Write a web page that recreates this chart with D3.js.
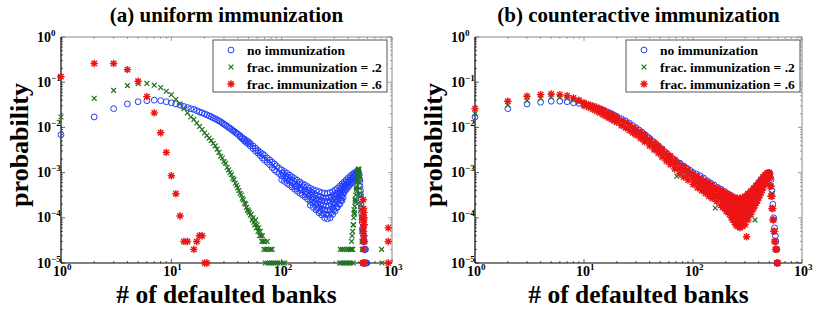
<!DOCTYPE html>
<html>
<head>
<meta charset="utf-8">
<script src="https://cdn.jsdelivr.net/npm/d3@7"></script>
<style>
  body { margin: 0; background: #fff; }
</style>
</head>
<body>
<div id="chart"></div>
<script>
// each row: [number of defaulted banks, probability, probability, ...]
const uniformNone = [
  [1, 6.9e-3], [2, 1.7e-2], [3, 2.6e-2], [4, 3.3e-2], [5, 3.7e-2], [6, 3.9e-2], [7, 4.0e-2], [8, 3.9e-2], [9, 3.7e-2],
  [10, 3.5e-2], [11, 3.3e-2], [12, 3.1e-2], [13, 2.9e-2], [14, 2.75e-2], [15, 2.6e-2], [16, 2.5e-2], [17, 2.35e-2],
  [18, 2.2e-2], [19, 2.1e-2], [20, 2.0e-2], [21, 1.9e-2], [22, 1.8e-2], [23, 1.72e-2], [24, 1.62e-2], [25, 1.55e-2],
  [26, 1.47e-2], [27, 1.4e-2], [28, 1.33e-2], [29, 1.25e-2], [30, 1.18e-2], [31, 1.12e-2], [32, 1.06e-2], [33, 1.0e-2],
  [34, 9.6e-3], [35, 9.0e-3], [36, 8.6e-3], [37, 8.2e-3], [38, 7.8e-3], [39, 7.4e-3], [40, 7.1e-3],
  [42, 6.6e-3, 6.2e-3], [44, 5.9e-3, 5.6e-3], [46, 5.5e-3, 5.0e-3], [48, 5.1e-3, 4.6e-3], [50, 4.8e-3, 4.3e-3],
  [52, 4.4e-3, 3.9e-3], [55, 3.9e-3, 3.4e-3], [58, 3.5e-3, 3.0e-3], [61, 3.1e-3, 2.7e-3], [64, 2.8e-3, 2.4e-3],
  [67, 2.6e-3, 2.1e-3], [70, 2.4e-3, 1.9e-3], [74, 2.1e-3, 1.7e-3], [78, 1.9e-3, 1.5e-3], [82, 1.7e-3, 1.3e-3],
  [86, 1.55e-3, 1.15e-3], [90, 1.4e-3, 1.05e-3], [95, 1.25e-3, 9.5e-4], [100, 1.15e-3, 8.5e-4, 7e-4],
  [103, 9.6e-4], [106, 1.05e-3, 7.8e-4, 6.4e-4], [109, 8.4e-4], [112, 9.6e-4, 7.1e-4, 5.8e-4], [115, 7.9e-4],
  [118, 8.8e-4, 6.5e-4, 5.3e-4], [121, 6.9e-4], [124, 8.1e-4, 6.0e-4, 4.8e-4], [128, 6.6e-4], [131, 7.4e-4, 5.5e-4, 4.3e-4],
  [134, 4.8e-4], [138, 6.8e-4, 5.0e-4, 3.9e-4], [142, 5.6e-4], [146, 6.2e-4, 4.6e-4, 3.5e-4], [150, 4.1e-4],
  [154, 5.7e-4, 4.2e-4, 3.2e-4], [158, 4.8e-4], [163, 5.3e-4, 3.8e-4, 2.9e-4], [167, 3.3e-4], [172, 4.9e-4, 3.5e-4, 2.6e-4],
  [177, 4.0e-4, 3.0e-4], [182, 4.5e-4, 3.2e-4, 2.3e-4, 1.9e-4], [188, 3.7e-4, 2.6e-4], [193, 4.2e-4, 2.9e-4, 2.1e-4, 1.7e-4],
  [199, 3.3e-4, 2.3e-4], [205, 4.0e-4, 2.7e-4, 1.9e-4, 1.5e-4], [211, 3.1e-4, 2.1e-4, 1.6e-4], [218, 3.8e-4, 2.5e-4, 1.7e-4, 1.3e-4],
  [224, 2.9e-4, 2.0e-4, 1.4e-4], [231, 3.6e-4, 2.4e-4, 1.6e-4, 1.15e-4], [238, 2.7e-4, 1.9e-4, 1.25e-4],
  [245, 3.5e-4, 2.3e-4, 1.5e-4, 1.0e-4], [252, 2.7e-4, 1.8e-4, 1.2e-4], [260, 3.5e-4, 2.3e-4, 1.45e-4, 9.5e-5],
  [267, 2.8e-4, 1.8e-4, 1.15e-4], [275, 3.6e-4, 2.4e-4, 1.5e-4, 1.0e-4], [282, 2.9e-4, 2.0e-4, 1.3e-4],
  [290, 3.8e-4, 2.6e-4, 1.7e-4, 1.2e-4], [297, 3.2e-4, 2.2e-4, 1.5e-4], [305, 4.1e-4, 2.9e-4, 2.0e-4, 1.4e-4],
  [312, 3.5e-4, 2.5e-4, 1.7e-4], [320, 4.5e-4, 3.2e-4, 2.3e-4, 1.7e-4], [328, 3.9e-4, 2.8e-4, 2.0e-4],
  [336, 5.0e-4, 3.6e-4, 2.7e-4, 2.0e-4], [344, 4.4e-4, 3.2e-4, 2.4e-4], [352, 5.6e-4, 4.1e-4, 3.1e-4, 2.4e-4],
  [360, 5.0e-4, 3.7e-4, 2.8e-4], [368, 6.2e-4, 4.7e-4, 3.6e-4], [376, 5.5e-4, 4.2e-4], [385, 6.9e-4, 5.3e-4, 4.2e-4],
  [393, 6.2e-4, 4.8e-4], [402, 7.6e-4, 6.0e-4, 4.8e-4], [411, 6.8e-4, 5.4e-4], [420, 8.4e-4, 6.7e-4, 5.5e-4],
  [429, 7.7e-4, 6.0e-4], [438, 9.2e-4, 7.5e-4, 6.3e-4], [447, 8.5e-4, 6.8e-4], [456, 9.8e-4, 8.3e-4, 7.1e-4],
  [465, 9.2e-4, 7.6e-4], [474, 1.05e-3, 9.0e-4, 8.0e-4], [483, 1.0e-3, 8.6e-4], [492, 1.08e-3, 9.6e-4],
  [505, 9.2e-4, 7.5e-4], [512, 6.5e-4, 5.0e-4], [518, 4.0e-4, 3.2e-4], [524, 2.6e-4, 2.0e-4], [530, 1.6e-4, 1.3e-4],
  [537, 1.0e-4, 8e-5], [544, 6e-5, 5e-5], [552, 4e-5, 3e-5], [560, 3e-5, 2e-5], [568, 2e-5, 1e-5], [576, 2e-5, 1e-5],
  [584, 1e-5], [592, 1e-5],
];

const uniformFrac2 = [
  [1, 1.7e-2], [2, 4.4e-2], [3, 6.6e-2], [4, 8.4e-2], [5, 9.3e-2], [6, 9.4e-2], [7, 8.6e-2], [8, 7.6e-2], [9, 6.3e-2],
  [10, 5.3e-2], [11, 4.2e-2], [12, 3.3e-2], [13, 2.6e-2], [14, 2.1e-2], [15, 1.7e-2], [16, 1.5e-2], [17, 1.25e-2],
  [18, 1.05e-2], [19, 9e-3], [20, 7.5e-3], [21, 6.6e-3], [22, 5.8e-3], [23, 5.1e-3], [24, 4.4e-3], [25, 3.9e-3],
  [26, 3.3e-3], [27, 2.8e-3], [28, 2.3e-3], [29, 2.1e-3], [30, 1.75e-3], [31, 1.6e-3], [32, 1.3e-3], [33, 1.15e-3],
  [34, 1.0e-3], [35, 9e-4], [36, 7.5e-4], [37, 7.0e-4], [38, 5.8e-4], [39, 5.2e-4], [40, 4.6e-4], [41, 4.0e-4],
  [42, 3.5e-4], [43, 3.2e-4], [44, 2.7e-4], [45, 2.5e-4], [46, 2.1e-4], [47, 2.0e-4], [48, 1.7e-4], [49, 1.5e-4],
  [50, 1.4e-4], [51, 1.3e-4], [52, 1.15e-4], [53, 1.2e-4], [54, 9e-5], [55, 1.0e-4], [56, 8e-5], [57, 7e-5], [58, 9e-5],
  [59, 6e-5], [60, 7e-5], [61, 5e-5], [62, 6e-5], [63, 4e-5], [64, 5e-5], [65, 4e-5], [66, 3e-5], [67, 4e-5],
  [68, 3e-5], [69, 2e-5], [70, 3e-5], [71, 1e-5], [72, 2e-5], [74, 3e-5], [75, 1e-5], [76, 2e-5], [78, 1e-5],
  [79, 2e-5], [81, 1e-5], [82, 2e-5], [85, 1e-5], [88, 1e-5], [92, 1e-5], [97, 1e-5], [103, 1e-5], [107, 1e-5],
  [335, 1e-5], [340, 2e-5], [345, 1e-5], [355, 2e-5], [360, 1e-5], [370, 2e-5], [375, 1e-5], [385, 1e-5],
  [390, 2e-5], [400, 1e-5], [405, 2e-5], [410, 1e-5], [420, 2e-5], [425, 1e-5], [430, 2e-5, 3e-5], [435, 4e-5],
  [440, 2e-5, 5e-5], [445, 1e-5, 7e-5], [448, 7e-5], [450, 1e-4], [452, 1.5e-4], [455, 1.3e-4], [458, 1.2e-4],
  [460, 1.8e-4], [462, 2.6e-4], [465, 2.4e-4], [468, 2.2e-4], [470, 3.2e-4], [472, 4.8e-4], [475, 4.3e-4],
  [478, 3.8e-4], [480, 5.8e-4], [483, 8.5e-4], [485, 7.5e-4], [488, 6.5e-4], [490, 9.5e-4], [492, 1.2e-3],
  [495, 1.1e-3], [498, 8e-4], [500, 1.1e-3], [503, 1.2e-3], [505, 9e-4], [508, 4.5e-4], [510, 6e-4], [512, 8e-4],
  [515, 3.5e-4], [518, 3e-4], [520, 2e-4], [522, 1.5e-4], [525, 1e-4], [530, 5e-5], [535, 3e-5], [538, 2e-5],
  [540, 1e-5], [805, 2e-5], [810, 1e-5],
];

const uniformFrac6 = [
  [1, 0.133], [2, 0.26], [3, 0.26], [4, 0.19], [5, 0.105], [6, 0.048], [7, 0.021], [8, 7.6e-3], [9, 2.8e-3],
  [10, 8.5e-4], [11, 3.4e-4], [12, 1.1e-4], [13, 3e-5], [14, 3e-5], [16, 2e-5], [17, 3e-5], [18, 4e-5], [19, 4e-5],
  [20, 1e-5], [21, 1e-5],
  [545, 1.1e-4, 1e-5], [547, 6e-5], [548, 2.5e-4], [549, 3e-5], [550, 8e-5], [551, 1e-5], [552, 1.6e-4],
  [553, 5e-5], [554, 9e-5], [555, 2e-5], [556, 1.3e-4], [557, 4e-5], [558, 1.0e-4, 1e-5], [560, 7e-5], [562, 3e-5],
  [925, 6e-5, 3e-5, 1e-5],
];

const counterNone = [
  [1, 1.7e-2], [2, 2.6e-2], [3, 3.3e-2], [4, 3.6e-2], [5, 3.8e-2], [6, 3.8e-2], [7, 3.7e-2], [8, 3.5e-2], [9, 3.4e-2],
  [10, 3.3e-2], [11, 3.1e-2], [12, 2.9e-2], [13, 2.7e-2], [14, 2.55e-2], [15, 2.4e-2], [16, 2.25e-2], [17, 2.1e-2],
  [18, 2.0e-2], [19, 1.85e-2], [20, 1.75e-2], [22, 1.55e-2], [24, 1.4e-2], [26, 1.25e-2], [28, 1.1e-2], [30, 9.8e-3],
  [32, 8.8e-3], [34, 7.9e-3], [36, 7.0e-3], [38, 6.3e-3], [40, 5.7e-3], [43, 4.9e-3], [46, 4.3e-3], [49, 3.7e-3],
  [52, 3.3e-3], [55, 2.9e-3], [58, 2.6e-3], [62, 2.3e-3], [66, 2.0e-3], [70, 1.8e-3], [76, 1.6e-3], [82, 1.4e-3],
  [88, 1.25e-3], [94, 1.12e-3], [100, 1.0e-3], [108, 9.2e-4], [116, 8.5e-4], [125, 7.6e-4], [135, 6.6e-4],
  [145, 5.9e-4], [156, 5.3e-4], [168, 4.7e-4], [180, 4.3e-4], [195, 3.8e-4], [210, 3.4e-4], [225, 3.1e-4],
  [240, 2.8e-4], [255, 2.6e-4], [270, 2.5e-4], [285, 2.6e-4], [300, 2.9e-4], [320, 3.3e-4], [340, 3.8e-4],
  [360, 4.4e-4], [380, 5.1e-4], [400, 5.9e-4], [420, 6.8e-4], [440, 7.8e-4], [460, 8.8e-4], [480, 9.6e-4],
  [500, 1.0e-3], [510, 9.5e-4], [520, 7e-4], [530, 4e-4], [540, 2e-4], [550, 1e-4], [560, 6e-5], [570, 4e-5],
  [575, 3e-5], [580, 2e-5], [585, 2e-5], [590, 1e-5], [595, 1e-5],
];

const counterFrac2 = [
  [1, 2.0e-2], [2, 3.1e-2], [3, 3.9e-2], [4, 4.4e-2], [5, 4.7e-2], [6, 4.6e-2], [7, 4.4e-2], [8, 4.0e-2], [9, 3.7e-2],
  [10, 3.4e-2], [12, 2.8e-2], [14, 2.4e-2], [16, 2.1e-2], [18, 1.85e-2], [20, 1.6e-2], [23, 1.35e-2], [26, 1.15e-2],
  [30, 9.2e-3], [35, 7.0e-3], [40, 5.3e-3], [46, 4.1e-3], [52, 3.1e-3], [60, 2.3e-3], [71, 8.3e-4], [70, 1.7e-3],
  [80, 1.35e-3], [90, 1.1e-3], [100, 9.2e-4], [115, 7.6e-4], [130, 6.2e-4], [160, 1.65e-4], [150, 5.0e-4],
  [180, 4.0e-4], [210, 3.2e-4], [240, 2.6e-4], [270, 2.3e-4], [300, 2.6e-4], [340, 3.4e-4], [370, 9e-5],
  [380, 4.6e-4], [420, 6.3e-4], [460, 8.3e-4], [500, 9.5e-4], [530, 3.5e-4], [560, 5e-5], [590, 1e-5],
];

const counterFrac6 = [
  [1, 2.6e-2], [2, 3.8e-2], [3, 4.9e-2], [4, 5.3e-2], [5, 5.5e-2], [6, 5.3e-2], [7, 5.0e-2], [8, 4.5e-2], [9, 4.0e-2],
  [10, 3.5e-2, 3.0e-2], [11, 3.2e-2, 2.8e-2], [12, 3.0e-2, 2.5e-2], [13, 2.8e-2, 2.3e-2], [14, 2.6e-2, 2.1e-2],
  [15, 2.4e-2, 1.9e-2], [16, 2.2e-2, 1.75e-2], [17, 2.05e-2, 1.6e-2], [18, 1.9e-2, 1.5e-2], [19, 1.75e-2, 1.4e-2],
  [20, 1.65e-2, 1.3e-2], [22, 1.45e-2, 1.1e-2], [24, 1.3e-2, 9.8e-3], [26, 1.15e-2, 8.6e-3], [28, 1.0e-2, 7.6e-3],
  [30, 9.0e-3, 7.8e-3, 6.8e-3], [33, 7.8e-3, 6.6e-3, 5.7e-3], [36, 6.7e-3, 5.6e-3, 4.8e-3], [40, 5.5e-3, 4.6e-3, 3.9e-3],
  [44, 4.6e-3, 3.8e-3, 3.2e-3], [48, 3.9e-3, 3.2e-3, 2.7e-3], [52, 3.3e-3, 2.7e-3, 2.2e-3], [57, 2.7e-3, 2.2e-3, 1.8e-3],
  [62, 2.3e-3, 1.8e-3, 1.5e-3], [68, 1.9e-3, 1.5e-3, 1.2e-3], [75, 1.6e-3, 1.2e-3, 9.5e-4], [82, 1.35e-3, 1.05e-3, 8e-4],
  [90, 1.15e-3, 8.8e-4, 6.8e-4], [100, 9.5e-4, 7.3e-4, 5.5e-4], [105, 8.2e-4, 6.4e-4], [110, 8.2e-4, 6.2e-4, 4.6e-4],
  [115, 7.0e-4, 5.2e-4], [120, 7.2e-4, 5.4e-4, 4.0e-4], [125, 6.2e-4, 4.6e-4], [130, 6.4e-4, 4.7e-4, 3.5e-4],
  [135, 5.5e-4, 4.0e-4], [140, 5.8e-4, 4.2e-4, 3.0e-4], [145, 4.9e-4, 3.5e-4], [150, 5.2e-4, 3.8e-4, 2.7e-4],
  [157, 4.4e-4, 3.1e-4], [165, 4.6e-4, 3.3e-4, 2.3e-4], [172, 3.9e-4, 2.7e-4], [180, 4.1e-4, 2.9e-4, 1.9e-4],
  [187, 3.4e-4, 2.3e-4, 1.7e-4], [195, 3.7e-4, 2.6e-4, 1.8e-4, 1.6e-4], [202, 3.0e-4, 2.0e-4, 1.4e-4],
  [210, 3.3e-4, 2.3e-4, 1.6e-4, 1.3e-4], [217, 2.7e-4, 1.8e-4, 1.2e-4], [225, 3.0e-4, 2.1e-4, 1.4e-4, 1.0e-4],
  [232, 2.5e-4, 1.6e-4, 1.1e-4, 9e-5], [240, 2.8e-4, 1.9e-4, 1.25e-4, 8e-5], [247, 2.3e-4, 1.5e-4, 9.5e-5, 7e-5],
  [255, 2.7e-4, 1.8e-4, 1.1e-4, 6.5e-5], [262, 2.2e-4, 1.4e-4, 8.5e-5, 7.5e-5], [270, 2.7e-4, 1.8e-4, 1.05e-4, 6e-5],
  [277, 2.3e-4, 1.45e-4, 8.5e-5], [285, 2.8e-4, 1.9e-4, 1.1e-4, 6.5e-5], [292, 2.4e-4, 1.55e-4, 9e-5],
  [300, 3.0e-4, 2.0e-4, 1.2e-4, 7e-5], [310, 2.6e-4, 1.7e-4, 1.0e-4, 3.8e-5], [320, 3.4e-4, 2.3e-4, 1.4e-4, 9e-5],
  [330, 2.9e-4, 2.0e-4, 1.2e-4], [340, 3.9e-4, 2.7e-4, 1.8e-4, 1.2e-4], [350, 3.4e-4, 2.4e-4, 1.5e-4],
  [360, 4.5e-4, 3.2e-4, 2.2e-4, 1.6e-4], [370, 3.9e-4, 2.8e-4, 1.9e-4], [380, 5.2e-4, 3.8e-4, 2.8e-4, 2.1e-4],
  [390, 4.5e-4, 3.3e-4, 2.4e-4], [400, 6.0e-4, 4.4e-4, 3.4e-4, 2.8e-4], [410, 5.3e-4, 4.0e-4, 3.1e-4],
  [420, 7e-4, 5.3e-4, 3.6e-4], [430, 6.2e-4, 4.8e-4, 4.0e-4], [440, 8e-4, 6.2e-4, 4.6e-4], [450, 7.2e-4, 5.6e-4],
  [460, 9e-4, 7.2e-4, 5.6e-4], [470, 8.2e-4, 6.5e-4], [480, 9.8e-4, 8.2e-4, 6.8e-4], [490, 9.2e-4, 7.6e-4],
  [500, 1.0e-3, 8.8e-4, 7.5e-4],
  [510, 8e-4, 5e-4], [520, 5e-4, 3e-4], [530, 3e-4, 1.6e-4], [540, 1.6e-4, 9e-5], [550, 9e-5, 5e-5],
  [560, 5e-5, 3e-5], [570, 3e-5, 2e-5], [580, 2e-5], [585, 2e-5], [590, 1e-5], [595, 1e-5], [600, 1e-5],
];

const panelTitles = ['(a) uniform immunization', '(b) counteractive immunization'];
const legendLabels = ['no immunization', 'frac. immunization = .2', 'frac. immunization = .6'];
const xTickExps = [0, 1, 2, 3];
const yTickExps = [0, -1, -2, -3, -4, -5];

const figProps = ({
  width: 817,
  height: 315,
  top: 37,
  bottom: 263,
  font: 'Liberation Serif, Times New Roman, DejaVu Serif, serif',
});

const panelProps = [
  { left: 61, right: 392, legendX: 213 },
  { left: 475, right: 802, legendX: 626 },
];

const markerColors = ['#1f3cff', '#217321', '#ec1515'];

function markerPath(kind) {
  if (kind === 0) {
    // open circle
    return d3.symbol().type(d3.symbolCircle).size(27)();
  }
  if (kind === 1) {
    const a = 2.4;
    return `M${-a},${-a}L${a},${a}M${-a},${a}L${a},${-a}`;
  }
  const s = 3.7;
  const d = 2.7;
  return `M${-s},0H${s}M0,${-s}V${s}M${-d},${-d}L${d},${d}M${-d},${d}L${d},${-d}`;
}

function styleMarker(sel, kind) {
  sel.attr('d', markerPath(kind))
    .attr('fill', 'none')
    .attr('stroke', markerColors[kind])
    .attr('stroke-width', kind === 2 ? 1.4 : (kind === 1 ? 1.2 : 1));
}

function powLabel(sel, exp) {
  sel.append('tspan').text('10');
  sel.append('tspan')
    .attr('dy', -6)
    .attr('font-size', 9)
    .text(exp < 0 ? `\u2212${-exp}` : `${exp}`);
}

const svg = d3.select('#chart').append('svg')
  .attr('width', figProps.width)
  .attr('height', figProps.height)
  .attr('font-family', figProps.font)
  .attr('font-weight', 'bold')
  .style('background-color', '#fff');

function renderPanel(idx, seriesList) {
  const p = panelProps[idx];
  const g = svg.append('g');

  const xScale = d3.scaleLog().domain([1, 1000]).range([p.left, p.right]);
  const yScale = d3.scaleLog().domain([1e-5, 1]).range([figProps.bottom, figProps.top]);

  // minor + major ticks on all sides, pointing in
  const xTicks = xScale.ticks();
  const yTicks = yScale.ticks();
  const isMajor = (v) => Math.abs(Math.log10(v) - Math.round(Math.log10(v))) < 1e-9;

  const tickG = g.append('g').attr('stroke', '#333').attr('stroke-width', 0.8);
  xTicks.forEach((v) => {
    const len = isMajor(v) ? 4 : 2;
    const x = xScale(v);
    tickG.append('line').attr('x1', x).attr('x2', x).attr('y1', figProps.bottom).attr('y2', figProps.bottom - len);
    tickG.append('line').attr('x1', x).attr('x2', x).attr('y1', figProps.top).attr('y2', figProps.top + len).attr('stroke', '#888');
  });
  yTicks.forEach((v) => {
    const len = isMajor(v) ? 4 : 2;
    const y = yScale(v);
    tickG.append('line').attr('x1', p.left).attr('x2', p.left + len).attr('y1', y).attr('y2', y);
    tickG.append('line').attr('x1', p.right).attr('x2', p.right - len).attr('y1', y).attr('y2', y).attr('stroke', '#888');
  });

  // frame: top/right lighter
  g.append('line').attr('x1', p.left).attr('x2', p.right).attr('y1', figProps.top).attr('y2', figProps.top)
    .attr('stroke', '#888').attr('stroke-width', 1);
  g.append('line').attr('x1', p.right).attr('x2', p.right).attr('y1', figProps.top).attr('y2', figProps.bottom)
    .attr('stroke', '#888').attr('stroke-width', 1);
  g.append('line').attr('x1', p.left).attr('x2', p.right).attr('y1', figProps.bottom).attr('y2', figProps.bottom)
    .attr('stroke', '#000').attr('stroke-width', 1.2);
  g.append('line').attr('x1', p.left).attr('x2', p.left).attr('y1', figProps.top).attr('y2', figProps.bottom)
    .attr('stroke', '#000').attr('stroke-width', 1.2);

  // tick labels
  yTickExps.forEach((e) => {
    g.append('text')
      .attr('x', p.left - 24)
      .attr('y', yScale(10 ** e) + 4.5)
      .attr('font-size', 14)
      .call(powLabel, e);
  });
  xTickExps.forEach((e) => {
    g.append('text')
      .attr('x', xScale(10 ** e) - 8)
      .attr('y', 276)
      .attr('font-size', 14)
      .call(powLabel, e);
  });

  // points
  const plotG = g.append('g');
  seriesList.forEach((rows, k) => {
    const pts = rows.flatMap((r) => r.slice(1).map((v) => [r[0], v]));
    plotG.selectAll(null)
      .data(pts)
      .enter()
      .append('path')
      .attr('transform', (d) => `translate(${xScale(d[0])},${yScale(d[1])})`)
      .call(styleMarker, k);
  });

  // titles / labels
  const cx = (p.left + p.right) / 2;
  g.append('text').attr('x', cx).attr('y', 22).attr('text-anchor', 'middle')
    .attr('font-size', 21).text(panelTitles[idx]);
  g.append('text').attr('x', cx).attr('y', 303).attr('text-anchor', 'middle')
    .attr('font-size', 25.5).text('# of defaulted banks');
  g.append('text')
    .attr('transform', `translate(${p.left - 33},145) rotate(-90)`)
    .attr('text-anchor', 'middle')
    .attr('font-size', 26)
    .text('probability');

  // legend
  const lg = g.append('g').attr('transform', `translate(${p.legendX},40)`);
  lg.append('rect').attr('width', 174).attr('height', 52)
    .attr('fill', '#fff').attr('stroke', '#555').attr('stroke-width', 1);
  legendLabels.forEach((lab, k) => {
    const y = 10 + k * 17;
    lg.append('path').attr('transform', `translate(18,${y})`).call(styleMarker, k);
    lg.append('text').attr('x', 34).attr('y', y + 4.5).attr('font-size', 13.5).text(lab);
  });
}

renderPanel(0, [uniformNone, uniformFrac2, uniformFrac6]);
renderPanel(1, [counterNone, counterFrac2, counterFrac6]);
</script>
</body>
</html>
